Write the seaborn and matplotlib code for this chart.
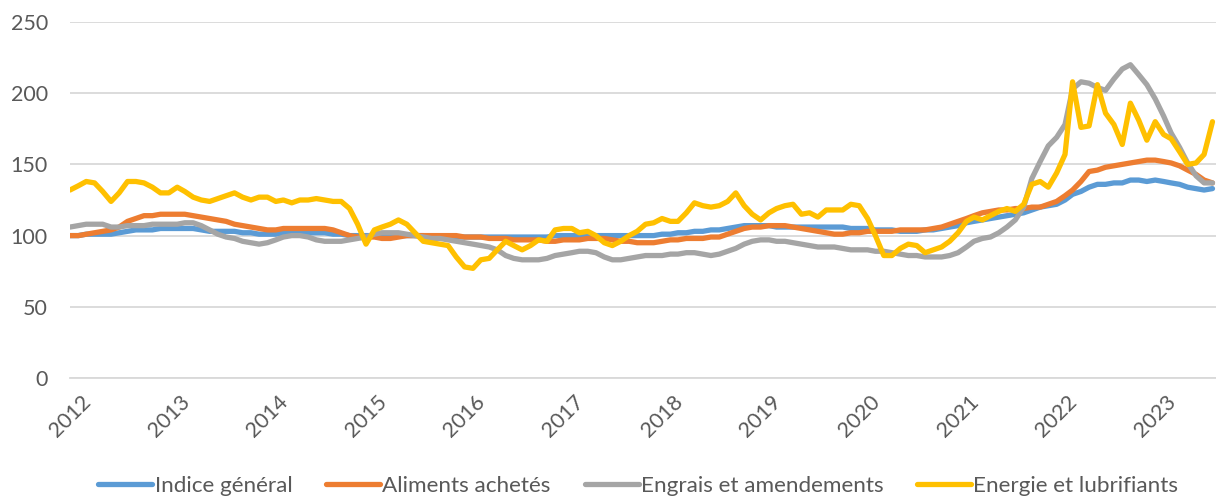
import pandas as pd
import matplotlib
matplotlib.use("Agg")
import matplotlib.pyplot as plt
import matplotlib.dates as mdates
import seaborn as sns

# monthly index values, Jan 2012 -> Aug 2023
months = pd.date_range("2012-01-01", periods=140, freq="MS")

indice_general = [
    100, 100, 101, 101, 101, 101, 102, 103, 104, 104, 104, 105,
    105, 105, 105, 105, 104, 103, 103, 103, 103, 102, 102, 101,
    101, 101, 102, 102, 102, 102, 102, 102, 101, 101, 100, 100,
    100, 100, 100, 100, 100, 100, 100, 100, 99, 99, 99, 99,
    99, 99, 99, 99, 99, 99, 99, 99, 99, 99, 99, 100,
    100, 100, 100, 100, 100, 100, 100, 100, 100, 100, 100, 100,
    101, 101, 102, 102, 103, 103, 104, 104, 105, 106, 107, 107,
    107, 107, 106, 106, 106, 106, 106, 106, 106, 106, 106, 105,
    105, 105, 104, 104, 104, 103, 103, 103, 104, 104, 105, 106,
    107, 109, 110, 111, 112, 113, 114, 115, 116, 118, 120, 121,
    122, 125, 129, 131, 134, 136, 136, 137, 137, 139, 139, 138,
    139, 138, 137, 136, 134, 133, 132, 133,
]

aliments = [
    100, 100, 101, 102, 103, 104, 106, 110, 112, 114, 114, 115,
    115, 115, 115, 114, 113, 112, 111, 110, 108, 107, 106, 105,
    104, 104, 105, 105, 105, 105, 105, 105, 104, 102, 100, 99,
    99, 99, 98, 98, 99, 100, 100, 100, 100, 100, 100, 100,
    99, 99, 99, 98, 98, 98, 97, 97, 97, 97, 96, 96,
    97, 97, 97, 98, 98, 98, 97, 96, 96, 95, 95, 95,
    96, 97, 97, 98, 98, 98, 99, 99, 101, 103, 105, 106,
    106, 107, 107, 107, 106, 105, 104, 103, 102, 101, 101, 102,
    102, 103, 103, 103, 103, 104, 104, 104, 104, 105, 106, 108,
    110, 112, 114, 116, 117, 118, 118, 119, 119, 120, 120, 122,
    124, 128, 132, 138, 145, 146, 148, 149, 150, 151, 152, 153,
    153, 152, 151, 149, 146, 143, 139, 137,
]

engrais = [
    106, 107, 108, 108, 108, 106, 106, 107, 107, 107, 108, 108,
    108, 108, 109, 109, 107, 104, 101, 99, 98, 96, 95, 94,
    95, 97, 99, 100, 100, 99, 97, 96, 96, 96, 97, 98,
    99, 101, 102, 102, 102, 101, 100, 99, 98, 98, 97, 96,
    95, 94, 93, 92, 90, 86, 84, 83, 83, 83, 84, 86,
    87, 88, 89, 89, 88, 85, 83, 83, 84, 85, 86, 86,
    86, 87, 87, 88, 88, 87, 86, 87, 89, 91, 94, 96,
    97, 97, 96, 96, 95, 94, 93, 92, 92, 92, 91, 90,
    90, 90, 89, 89, 88, 87, 86, 86, 85, 85, 85, 86,
    88, 92, 96, 98, 99, 102, 106, 111, 120, 140, 152, 163,
    169, 178, 203, 208, 207, 204, 202, 210, 217, 220, 213, 206,
    196, 184, 172, 162, 151, 142, 137, 137,
]

energie = [
    132, 135, 138, 137, 131, 124, 130, 138, 138, 137, 134, 130,
    130, 134, 131, 127, 125, 124, 126, 128, 130, 127, 125, 127,
    127, 124, 125, 123, 125, 125, 126, 125, 124, 124, 119, 108,
    94, 104, 106, 108, 111, 108, 102, 96, 95, 94, 93, 85,
    78, 77, 83, 84, 90, 96, 93, 90, 93, 97, 96, 104,
    105, 105, 102, 103, 100, 95, 93, 96, 100, 103, 108, 109,
    112, 110, 110, 116, 123, 121, 120, 121, 124, 130, 121, 115,
    111, 116, 119, 121, 122, 115, 116, 113, 118, 118, 118, 122,
    121, 112, 100, 86, 86, 91, 94, 93, 88, 90, 92, 96,
    102, 110, 113, 111, 114, 117, 119, 117, 122, 136, 138, 134,
    144, 157, 208, 176, 177, 206, 186, 178, 164, 193, 181, 167,
    180, 171, 168, 159, 150, 151, 157, 180,
]

series_names = ["Indice général", "Aliments achetés",
                "Engrais et amendements", "Energie et lubrifiants"]
colors = ["#5B9BD5", "#ED7D31", "#A5A5A5", "#FFC000"]

df = pd.DataFrame({"date": months,
                   series_names[0]: indice_general,
                   series_names[1]: aliments,
                   series_names[2]: engrais,
                   series_names[3]: energie})
long_df = df.melt(id_vars="date", var_name="serie", value_name="indice")

sns.set_theme(style="white")
plt.rcParams["font.family"] = ["Lato", "DejaVu Sans"]

fig = plt.figure(figsize=(12.16, 4.97), dpi=100)
ax = fig.add_axes([70 / 1216, 119 / 497, 1 - 70 / 1216, 356 / 497])

sns.lineplot(data=long_df, x="date", y="indice", hue="serie",
             hue_order=series_names, palette=colors, linewidth=3.8,
             ax=ax, legend=True)

ax.set_ylim(0, 250)
ax.set_yticks(range(0, 251, 50))
ax.set_xlim(pd.Timestamp("2012-01-01"), pd.Timestamp("2023-08-14"))
ax.xaxis.set_major_locator(mdates.YearLocator())
ax.xaxis.set_major_formatter(mdates.DateFormatter("%Y"))
ax.set_xlabel("")
ax.set_ylabel("")

ax.grid(axis="y", color="#D9D9D9", linewidth=1.3)
ax.set_axisbelow(True)
for side in ["top", "right", "left"]:
    ax.spines[side].set_visible(False)
ax.spines["bottom"].set_color("#D9D9D9")
ax.spines["bottom"].set_linewidth(1.3)

ax.tick_params(axis="y", length=0, labelsize=15.5, labelcolor="#595959", pad=16)
ax.tick_params(axis="x", length=5, width=1.3, color="#D9D9D9",
               labelsize=15.5, labelcolor="#595959", pad=5)
for lab in ax.get_xticklabels():
    lab.set_rotation(45)
    lab.set_ha("center")
    lab.set_va("top")

handles, labels = ax.get_legend_handles_labels()
ax.legend(handles, labels, loc="center", bbox_to_anchor=(0.496, -0.302),
          ncol=4, frameon=False, fontsize=16.2, handlelength=2.4,
          handletextpad=0.1, columnspacing=1.5, labelcolor="#595959")

fig.savefig("out.png", dpi=100)
